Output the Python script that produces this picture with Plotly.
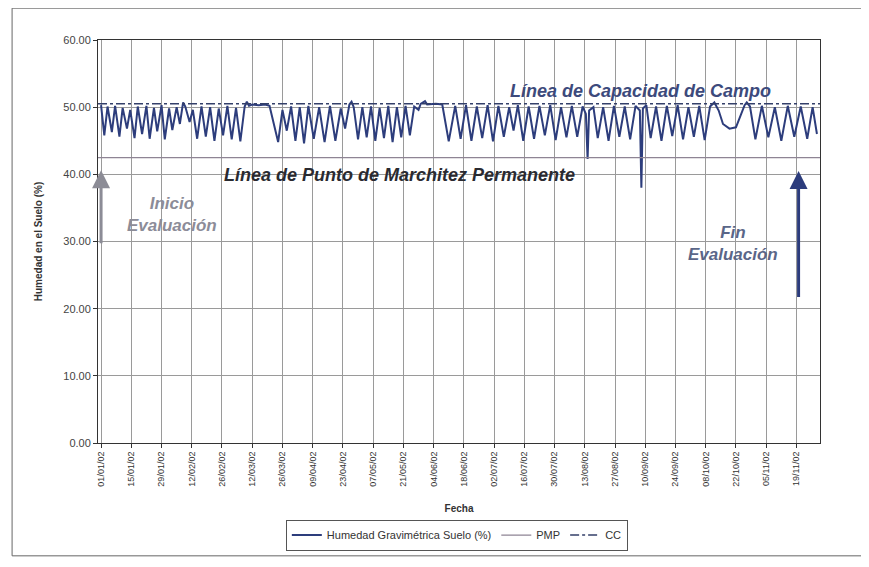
import pandas as pd
import plotly.graph_objects as go

# ---- data (day offset from 01/01/2002, soil moisture %) ----
dias_ene_feb = [0, 1.5, 3, 5, 6.5, 8.5, 10, 12, 13.5, 15.5, 17, 19, 21, 22.5, 24.5, 26,
                28, 29.5, 31.5, 33, 35, 36.5, 38, 39]
hum_ene_feb = [50.3, 45.8, 50.1, 46.3, 50.2, 45.6, 49.9, 46.8, 49.6, 45.4, 50.1, 46.0, 50.2, 45.3, 49.9, 46.4,
               50.3, 45.2, 49.8, 46.6, 50.0, 47.5, 50.7, 50.1]

dias_feb_mar = [41, 42.5, 44.5, 46.5, 48.5, 50.5, 52.5, 54.5, 56.5, 58.5, 60.5, 62.5, 64.5, 66.5,
                67.5, 68.5, 70, 73, 76, 78]
hum_feb_mar = [47.8, 49.6, 45.3, 50.1, 45.6, 50.0, 45.0, 49.8, 45.8, 50.2, 45.2, 49.9, 44.9, 50.1,
               50.8, 50.2, 50.4, 50.3, 50.4, 50.2]

dias_mar_jun = [82, 84, 86, 88, 90, 92, 94, 96, 98.5, 101, 103.5, 106, 108.5, 111, 113, 115, 116, 117,
                119, 121, 123, 125, 127, 129, 131, 133, 135, 137, 139, 141, 143, 145, 147, 148, 150,
                151, 155, 158]
hum_mar_jun = [44.8, 49.6, 46.5, 50.1, 45.0, 50.0, 44.6, 50.2, 45.3, 50.0, 44.8, 50.2, 45.0, 49.8, 46.8, 50.4, 50.8, 50.0,
               45.2, 50.0, 45.5, 50.1, 45.0, 49.9, 45.4, 50.2, 44.8, 50.0, 45.5, 50.2, 45.8, 50.1, 49.6, 50.5, 50.9,
               50.4, 50.5, 50.4]

dias_jun_oct = [161, 164, 166.5, 169, 171.5, 174, 176.5, 179, 181.5, 184, 186.5, 189, 191, 193, 195.5,
                198, 200.5, 203, 205.5, 208, 210.5, 213, 215.5, 218, 220.5, 223, 224.5, 225.3, 226, 228,
                230, 232.5, 235, 237.5, 240, 242.5, 245, 247.5, 249.5, 250.2, 250.9, 252.5, 254.5, 257,
                259.5, 262, 264.5, 267, 269.5, 272, 274.5, 277, 279.5, 282]
hum_jun_oct = [44.9, 50.2, 45.3, 50.3, 45.0, 50.1, 45.4, 50.3, 44.9, 50.2, 45.6, 50.0, 46.5, 50.3, 45.0,
               50.1, 45.3, 50.2, 45.8, 50.3, 45.1, 50.0, 45.5, 50.2, 45.6, 50.1, 49.0, 42.3, 49.5, 50.0,
               45.4, 50.0, 45.0, 50.2, 45.6, 50.1, 45.2, 50.2, 49.5, 38.0, 49.8, 50.3, 45.4, 50.1,
               45.0, 50.2, 45.7, 50.3, 45.2, 50.0, 45.6, 50.2, 45.1, 50.1]

dias_oct_nov = [284, 286, 288, 291, 294, 296, 298, 299, 300.5, 303, 306, 309, 312, 315, 318, 321, 324,
                327, 329.5, 331.5]
hum_oct_nov = [50.7, 49.5, 47.5, 46.8, 47.0, 48.8, 50.3, 50.7, 50.1, 45.2, 50.2, 45.5, 50.0, 45.0, 50.2, 45.6, 50.1,
               45.3, 50.0, 46.0]

pmp_valor = 42.5
cc_valor = 50.5
fecha_inicio = "2002-01-01"
fecha_fin_eval = "2002-11-20"

dias = dias_ene_feb + dias_feb_mar + dias_mar_jun + dias_jun_oct + dias_oct_nov
humedad = hum_ene_feb + hum_feb_mar + hum_mar_jun + hum_jun_oct + hum_oct_nov
fechas = pd.Timestamp(fecha_inicio) + pd.to_timedelta(dias, unit="D")

x_min = "2001-12-30 14:00"
x_max = "2002-11-29 22:00"

FONT = "Liberation Sans, Arial, sans-serif"

fig = go.Figure()
fig.add_trace(go.Scatter(x=fechas, y=humedad, mode="lines", name="Humedad Gravimétrica Suelo (%)",
                         line=dict(color="#2d3d7c", width=2)))
fig.add_trace(go.Scatter(x=[x_min, x_max], y=[pmp_valor, pmp_valor], mode="lines", name="PMP",
                         line=dict(color="#8e8494", width=1.3)))
fig.add_trace(go.Scatter(x=[x_min, x_max], y=[cc_valor, cc_valor], mode="lines", name="CC",
                         line=dict(color="#34406a", width=1.5, dash="dashdot")))

ann = []
def texto(x, y, t, size, color):
    ann.append(dict(xref="paper", yref="paper", x=x, y=y, xanchor="center", yanchor="middle",
                    showarrow=False, text=t, font=dict(size=size, color=color, family=FONT)))

texto(0.751, 0.873, "<b><i>Línea de Capacidad de Campo</i></b>", 18, "#3d4a7c")
texto(0.418, 0.665, "<b><i>Línea de Punto de Marchitez Permanente</i></b>", 18, "#2a2a30")
texto(0.102, 0.566, "<b><i>Inicio<br>Evaluación</i></b>", 17, "#8c8c98")
texto(0.879, 0.496, "<b><i>Fin<br>Evaluación</i></b>", 17, "#5a6688")
# arrows
ann.append(dict(x=fecha_inicio, y=40.6, ax=fecha_inicio, ay=29.5, xref="x", yref="y",
                axref="x", ayref="y", showarrow=True, arrowhead=2, arrowsize=1.2,
                arrowwidth=3, arrowcolor="#8c8c96", text=""))
ann.append(dict(x=fecha_fin_eval, y=40.5, ax=fecha_fin_eval, ay=21.5, xref="x", yref="y",
                axref="x", ayref="y", showarrow=True, arrowhead=2, arrowsize=1.2,
                arrowwidth=3, arrowcolor="#2c3c7c", text=""))

fig.update_layout(
    width=861, height=559,
    margin=dict(l=90, r=49, t=32, b=124),
    paper_bgcolor="white", plot_bgcolor="white",
    font=dict(family=FONT, color="#333"),
    showlegend=True,
    legend=dict(orientation="h", x=0.497, xanchor="center", y=-0.19, yanchor="top",
                bordercolor="#555", borderwidth=1, font=dict(size=11, color="#333"),
                bgcolor="white", tracegroupgap=0, itemwidth=30),
    annotations=ann,
    shapes=[dict(type="rect", xref="paper", yref="paper", x0=-0.119, x1=1.058, y0=-0.28, y1=1.079,
                 line=dict(color="#666", width=1), layer="below")],
)
fig.update_xaxes(type="date", range=[x_min, x_max], tick0=fecha_inicio, dtick=14 * 86400000,
                 tickformat="%d/%m/%y", tickangle=-90, tickfont=dict(size=9, color="#333"),
                 showgrid=True, gridcolor="#9a9a9a", gridwidth=1,
                 showline=True, linecolor="#333", linewidth=1, mirror=True,
                 ticks="outside", ticklen=4, tickcolor="#333",
                 title=dict(text="<b>Fecha</b>", font=dict(size=10, color="#333"), standoff=19))
fig.update_yaxes(range=[0, 60], dtick=10, tickformat=".2f", tickfont=dict(size=11, color="#444"),
                 showgrid=True, gridcolor="#9a9a9a", gridwidth=1,
                 showline=True, linecolor="#333", linewidth=1, mirror=True,
                 ticks="outside", ticklen=4, tickcolor="#333", zeroline=False,
                 title=dict(text="<b>Humedad en el Suelo (%)</b>", font=dict(size=10, color="#333"),
                            standoff=18))

fig.write_html("out.html")
